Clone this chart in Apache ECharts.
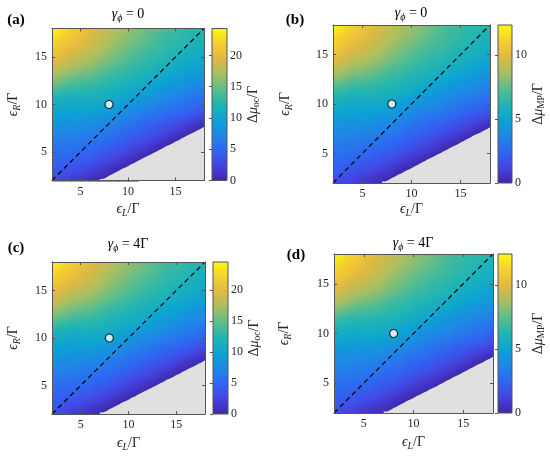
<!DOCTYPE html>
<html lang="en">
<head>
<meta charset="UTF-8">
<title>Delta mu maps</title>
<script src="https://cdn.jsdelivr.net/npm/echarts@6/dist/echarts.min.js"></script>
<style>
  html, body { margin: 0; padding: 0; background: #fff; }
  #main { width: 550px; height: 460px; }
</style>
</head>
<body>
<div id="main"></div>
<script>
// grid of level energies (eps_L columns, eps_R rows), in units of Gamma
var epsVals = [2, 3, 4, 5, 6, 7, 8, 9, 10, 11, 12, 13, 14, 15, 16, 17, 18];
var tickVals = [5, 10, 15];
var diagLine = [2, 18];
var markerPoint = [8, 10];
var cbTicksOc = [0, 5, 10, 15, 20];
var cbTicksMp = [0, 5, 10];

// edge of the grey (no solution) region, read off the staircase
var grayL = [7.0, 7.33, 7.67, 8.0, 8.33, 8.67, 9.0, 9.33, 9.67, 10.0, 10.33, 10.67, 11.0, 11.33, 11.67, 12.0, 12.33,
  12.67, 13.0, 13.33, 13.67, 14.0, 14.33, 14.67, 15.0, 15.33, 15.67, 16.0, 16.33, 16.67, 17.0, 17.33, 17.67, 18.0];
var grayTop = [2.15, 2.3, 2.5, 2.65, 2.85, 3.0, 3.2, 3.35, 3.5, 3.7, 3.85, 4.05, 4.2, 4.4, 4.55, 4.7, 4.9,
  5.05, 5.25, 5.4, 5.6, 5.75, 5.9, 6.1, 6.25, 6.45, 6.6, 6.8, 6.95, 7.1, 7.3, 7.45, 7.65, 7.65];

var _ = null;
// rows: eps_R = 2..18, columns: eps_L = 2..18
var dmuOcG0 = [
  [3.2, 2.5, 1.8, 1.3, 0.7, 0.2, 0, _, _, _, _, _, _, _, _, _, _],
  [4.1, 3.6, 3.1, 2.6, 2.1, 1.4, 0.7, 0, 0, _, _, _, _, _, _, _, _],
  [4.9, 4.6, 4.3, 4.0, 3.6, 2.9, 2.2, 1.4, 0.7, 0, 0, _, _, _, _, _, _],
  [5.6, 5.4, 5.2, 5.0, 4.7, 4.2, 3.7, 3.0, 2.2, 1.5, 0.7, 0, 0, _, _, _, _],
  [6.4, 6.3, 6.1, 5.9, 5.6, 5.2, 4.8, 4.3, 3.7, 3.0, 2.3, 1.5, 0.6, 0, 0, _, _],
  [7.4, 7.3, 7.1, 6.9, 6.7, 6.3, 5.8, 5.3, 4.8, 4.3, 3.7, 3.0, 2.3, 1.5, 0.6, 0, 0],
  [8.4, 8.3, 8.1, 8.0, 7.8, 7.4, 7.0, 6.4, 5.8, 5.3, 4.8, 4.3, 3.7, 3.1, 2.4, 1.5, 0.6],
  [9.6, 9.5, 9.3, 9.2, 9.2, 8.9, 8.6, 7.9, 7.2, 6.7, 6.1, 5.6, 5.1, 4.7, 4.2, 3.6, 2.9],
  [10.9, 10.7, 10.4, 10.5, 10.6, 10.3, 10.0, 9.3, 8.5, 8.0, 7.5, 7.0, 6.4, 5.9, 5.4, 5.0, 4.5],
  [12.4, 12.0, 11.6, 11.7, 11.7, 11.4, 11.1, 10.6, 10.1, 9.5, 8.9, 8.3, 7.7, 7.2, 6.6, 6.2, 5.7],
  [14.8, 14.1, 13.4, 13.1, 12.9, 12.5, 12.1, 11.7, 11.3, 10.8, 10.2, 9.6, 8.9, 8.4, 7.9, 7.4, 6.9],
  [17.0, 16.2, 15.4, 14.9, 14.5, 13.8, 13.1, 12.7, 12.2, 11.7, 11.2, 10.7, 10.1, 9.6, 9.1, 8.6, 8.1],
  [18.8, 18.0, 17.1, 16.6, 16.1, 15.4, 14.6, 13.9, 13.2, 12.7, 12.2, 11.7, 11.2, 10.7, 10.2, 9.8, 9.3],
  [20.3, 19.4, 18.5, 18.0, 17.4, 16.6, 15.7, 15.0, 14.2, 13.6, 13.0, 12.5, 12.0, 11.6, 11.1, 10.7, 10.3],
  [21.6, 20.7, 19.8, 19.1, 18.4, 17.6, 16.7, 15.9, 15.1, 14.5, 13.8, 13.3, 12.7, 12.3, 11.8, 11.4, 10.9],
  [22.8, 21.8, 20.8, 20.0, 19.1, 18.3, 17.4, 16.7, 16.0, 15.3, 14.5, 13.8, 13.1, 12.8, 12.4, 12.0, 11.5],
  [24.2, 23.0, 21.7, 20.8, 19.8, 18.9, 18.0, 17.3, 16.5, 15.8, 15.0, 14.3, 13.6, 13.2, 12.7, 12.4, 12.0]
];
var dmuMpG0 = [
  [1.6, 1.3, 0.9, 0.7, 0.4, 0.1, 0, _, _, _, _, _, _, _, _, _, _],
  [2.1, 1.8, 1.6, 1.3, 1.1, 0.7, 0.4, 0, 0, _, _, _, _, _, _, _, _],
  [2.5, 2.3, 2.2, 2.0, 1.8, 1.5, 1.1, 0.7, 0.4, 0, 0, _, _, _, _, _, _],
  [2.9, 2.8, 2.7, 2.6, 2.4, 2.1, 1.9, 1.5, 1.1, 0.8, 0.4, 0, 0, _, _, _, _],
  [3.3, 3.2, 3.1, 3.0, 2.9, 2.7, 2.4, 2.2, 1.9, 1.5, 1.2, 0.8, 0.3, 0, 0, _, _],
  [3.8, 3.7, 3.6, 3.5, 3.4, 3.2, 3.0, 2.7, 2.4, 2.2, 1.9, 1.5, 1.2, 0.8, 0.3, 0, 0],
  [4.3, 4.2, 4.1, 4.1, 4.0, 3.8, 3.6, 3.3, 3.0, 2.7, 2.4, 2.2, 1.9, 1.6, 1.2, 0.8, 0.3],
  [4.9, 4.8, 4.7, 4.7, 4.7, 4.5, 4.4, 4.0, 3.7, 3.4, 3.1, 2.9, 2.6, 2.4, 2.1, 1.8, 1.5],
  [5.6, 5.5, 5.3, 5.4, 5.4, 5.3, 5.1, 4.7, 4.3, 4.1, 3.8, 3.6, 3.3, 3.0, 2.8, 2.6, 2.3],
  [6.3, 6.1, 5.9, 6.0, 6.0, 5.8, 5.7, 5.4, 5.2, 4.8, 4.5, 4.2, 3.9, 3.7, 3.4, 3.2, 2.9],
  [7.5, 7.2, 6.8, 6.7, 6.6, 6.4, 6.2, 6.0, 5.8, 5.5, 5.2, 4.9, 4.5, 4.3, 4.0, 3.8, 3.5],
  [8.7, 8.3, 7.9, 7.6, 7.4, 7.0, 6.7, 6.5, 6.2, 6.0, 5.7, 5.5, 5.2, 4.9, 4.6, 4.4, 4.1],
  [9.6, 9.2, 8.7, 8.5, 8.2, 7.9, 7.4, 7.1, 6.7, 6.5, 6.2, 6.0, 5.7, 5.5, 5.2, 5.0, 4.7],
  [10.4, 9.9, 9.4, 9.2, 8.9, 8.5, 8.0, 7.7, 7.2, 6.9, 6.6, 6.4, 6.1, 5.9, 5.7, 5.5, 5.3],
  [11.0, 10.6, 10.1, 9.7, 9.4, 9.0, 8.5, 8.1, 7.7, 7.4, 7.0, 6.8, 6.5, 6.3, 6.0, 5.8, 5.6],
  [11.6, 11.1, 10.6, 10.2, 9.7, 9.3, 8.9, 8.5, 8.2, 7.8, 7.4, 7.0, 6.7, 6.5, 6.3, 6.1, 5.9],
  [12.3, 11.7, 11.1, 10.6, 10.1, 9.6, 9.2, 8.8, 8.4, 8.1, 7.7, 7.3, 6.9, 6.7, 6.5, 6.3, 6.1]
];
var dmuOcG4 = [
  [3.2, 2.5, 1.8, 1.3, 0.7, 0.2, 0, _, _, _, _, _, _, _, _, _, _],
  [4.1, 3.6, 3.1, 2.6, 2.1, 1.4, 0.7, 0, 0, _, _, _, _, _, _, _, _],
  [4.9, 4.6, 4.3, 4.0, 3.6, 2.9, 2.2, 1.4, 0.7, 0, 0, _, _, _, _, _, _],
  [5.6, 5.4, 5.2, 5.0, 4.7, 4.2, 3.7, 3.0, 2.2, 1.5, 0.7, 0, 0, _, _, _, _],
  [6.4, 6.3, 6.1, 5.9, 5.6, 5.2, 4.8, 4.3, 3.7, 3.0, 2.3, 1.5, 0.6, 0, 0, _, _],
  [7.4, 7.3, 7.1, 6.9, 6.7, 6.3, 5.8, 5.3, 4.8, 4.3, 3.7, 3.0, 2.3, 1.5, 0.6, 0, 0],
  [8.4, 8.3, 8.1, 8.0, 7.8, 7.4, 7.0, 6.4, 5.8, 5.3, 4.8, 4.3, 3.7, 3.1, 2.4, 1.5, 0.6],
  [9.6, 9.5, 9.3, 9.2, 9.2, 8.9, 8.6, 7.9, 7.2, 6.7, 6.1, 5.6, 5.1, 4.7, 4.2, 3.6, 2.9],
  [10.9, 10.7, 10.4, 10.5, 10.6, 10.3, 10.0, 9.3, 8.5, 8.0, 7.5, 7.0, 6.4, 5.9, 5.4, 5.0, 4.5],
  [12.4, 12.0, 11.6, 11.7, 11.7, 11.4, 11.1, 10.6, 10.1, 9.5, 8.9, 8.3, 7.7, 7.2, 6.6, 6.2, 5.7],
  [14.8, 14.1, 13.4, 13.1, 12.9, 12.5, 12.1, 11.7, 11.3, 10.8, 10.2, 9.6, 8.9, 8.4, 7.9, 7.4, 6.9],
  [17.0, 16.2, 15.4, 14.9, 14.5, 13.8, 13.1, 12.7, 12.2, 11.7, 11.2, 10.7, 10.1, 9.6, 9.1, 8.6, 8.1],
  [18.8, 18.0, 17.1, 16.6, 16.1, 15.4, 14.6, 13.9, 13.2, 12.7, 12.2, 11.7, 11.2, 10.7, 10.2, 9.8, 9.3],
  [20.3, 19.4, 18.5, 18.0, 17.4, 16.6, 15.7, 15.0, 14.2, 13.6, 13.0, 12.5, 12.0, 11.6, 11.1, 10.7, 10.3],
  [21.6, 20.7, 19.8, 19.1, 18.4, 17.6, 16.7, 15.9, 15.1, 14.5, 13.8, 13.3, 12.7, 12.3, 11.8, 11.4, 10.9],
  [22.8, 21.8, 20.8, 20.0, 19.1, 18.3, 17.4, 16.7, 16.0, 15.3, 14.5, 13.8, 13.1, 12.8, 12.4, 12.0, 11.5],
  [24.3, 23.1, 21.8, 20.8, 19.8, 18.9, 18.0, 17.3, 16.5, 15.8, 15.0, 14.3, 13.6, 13.2, 12.7, 12.4, 12.0]
];
var dmuMpG4 = [
  [1.6, 1.3, 0.9, 0.7, 0.4, 0.1, 0, _, _, _, _, _, _, _, _, _, _],
  [2.1, 1.8, 1.6, 1.3, 1.1, 0.7, 0.4, 0, 0, _, _, _, _, _, _, _, _],
  [2.5, 2.3, 2.2, 2.0, 1.8, 1.5, 1.1, 0.7, 0.4, 0, 0, _, _, _, _, _, _],
  [2.9, 2.8, 2.7, 2.6, 2.4, 2.1, 1.9, 1.5, 1.1, 0.8, 0.4, 0, 0, _, _, _, _],
  [3.3, 3.2, 3.1, 3.0, 2.9, 2.7, 2.4, 2.2, 1.9, 1.5, 1.2, 0.8, 0.3, 0, 0, _, _],
  [3.8, 3.7, 3.6, 3.5, 3.4, 3.2, 3.0, 2.7, 2.4, 2.2, 1.9, 1.5, 1.2, 0.8, 0.3, 0, 0],
  [4.3, 4.2, 4.1, 4.1, 4.0, 3.8, 3.6, 3.3, 3.0, 2.7, 2.4, 2.2, 1.9, 1.6, 1.2, 0.8, 0.3],
  [4.9, 4.8, 4.7, 4.7, 4.7, 4.5, 4.4, 4.0, 3.7, 3.4, 3.1, 2.9, 2.6, 2.4, 2.1, 1.8, 1.5],
  [5.6, 5.5, 5.3, 5.4, 5.4, 5.3, 5.1, 4.7, 4.3, 4.1, 3.8, 3.6, 3.3, 3.0, 2.8, 2.6, 2.3],
  [6.3, 6.1, 5.9, 6.0, 6.0, 5.8, 5.7, 5.4, 5.2, 4.8, 4.5, 4.2, 3.9, 3.7, 3.4, 3.2, 2.9],
  [7.5, 7.2, 6.8, 6.7, 6.6, 6.4, 6.2, 6.0, 5.8, 5.5, 5.2, 4.9, 4.5, 4.3, 4.0, 3.8, 3.5],
  [8.7, 8.3, 7.9, 7.6, 7.4, 7.0, 6.7, 6.5, 6.2, 6.0, 5.7, 5.5, 5.2, 4.9, 4.6, 4.4, 4.1],
  [9.6, 9.2, 8.7, 8.5, 8.2, 7.9, 7.4, 7.1, 6.7, 6.5, 6.2, 6.0, 5.7, 5.5, 5.2, 5.0, 4.7],
  [10.4, 9.9, 9.4, 9.2, 8.9, 8.5, 8.0, 7.7, 7.2, 6.9, 6.6, 6.4, 6.1, 5.9, 5.7, 5.5, 5.3],
  [11.0, 10.6, 10.1, 9.7, 9.4, 9.0, 8.5, 8.1, 7.7, 7.4, 7.0, 6.8, 6.5, 6.3, 6.0, 5.8, 5.6],
  [11.6, 11.1, 10.6, 10.2, 9.7, 9.3, 8.9, 8.5, 8.2, 7.8, 7.4, 7.0, 6.7, 6.5, 6.3, 6.1, 5.9],
  [12.4, 11.7, 11.1, 10.6, 10.1, 9.6, 9.2, 8.8, 8.4, 8.1, 7.7, 7.3, 6.9, 6.7, 6.5, 6.3, 6.1]
];

// parula-like colour map
var cmapPos = [0, 0.1, 0.2, 0.3, 0.4, 0.5, 0.6, 0.7, 0.8, 0.9, 1];
var cmapHex = ['#3e26a8', '#4543e0', '#2f66f2', '#1e88e6', '#0ca3d2', '#21b5b2', '#5cbd8c', '#a6bf62', '#e0b942', '#f6cf30', '#f9fb0e'];
var SERIF = '"Liberation Serif", "DejaVu Serif", serif';
var TXT = '#262626';
var FRAME = '#555555';

var cmapRgb = cmapHex.map(function (h) {
  return [parseInt(h.substr(1, 2), 16), parseInt(h.substr(3, 2), 16), parseInt(h.substr(5, 2), 16)];
});
function colorAt(f) {
  f = Math.max(0, Math.min(1, f));
  var i = 0;
  while (i < cmapPos.length - 2 && f > cmapPos[i + 1]) i++;
  var u = (f - cmapPos[i]) / (cmapPos[i + 1] - cmapPos[i]);
  var a = cmapRgb[i], b = cmapRgb[i + 1];
  return 'rgb(' + Math.round(a[0] + (b[0] - a[0]) * u) + ',' + Math.round(a[1] + (b[1] - a[1]) * u) + ',' +
    Math.round(a[2] + (b[2] - a[2]) * u) + ')';
}

var richAxis = {
  e: { fontFamily: SERIF, fontStyle: 'italic', fontSize: 14, color: TXT, lineHeight: 18 },
  n: { fontFamily: SERIF, fontSize: 14, color: TXT, lineHeight: 18 },
  s: { fontFamily: SERIF, fontStyle: 'italic', fontSize: 10, color: TXT, lineHeight: 8, verticalAlign: 'bottom' },
  r: { fontFamily: SERIF, fontSize: 9.5, color: TXT, lineHeight: 8, verticalAlign: 'bottom' }
};
var richTitle = {
  g: { fontFamily: SERIF, fontStyle: 'italic', fontSize: 14, fill: '#000', color: '#000', lineHeight: 18 },
  n: { fontFamily: SERIF, fontSize: 14, fill: '#000', color: '#000', lineHeight: 18 },
  s: { fontFamily: SERIF, fontStyle: 'italic', fontSize: 10, fill: '#000', color: '#000', lineHeight: 8, verticalAlign: 'bottom' }
};

var panels = [
  { values: dmuOcG0, cbMax: 24.3, cbTicks: cbTicksOc, tag: '(a)', title: '{g|γ}{s|ϕ}{n| = 0}',
    cbName: '{n|Δ}{e|μ}{r|oc}{n|/Γ}', box: { left: 52, top: 28.5, width: 152, height: 152 },
    bar: { left: 212, width: 15 }, xGap: 20, yGap: 30, cbGap: 13, titleAt: [128, 14], tagAt: [16, 20] },
  { values: dmuMpG0, cbMax: 12.35, cbTicks: cbTicksMp, tag: '(b)', title: '{g|γ}{s|ϕ}{n| = 0}',
    cbName: '{n|Δ}{e|μ}{r|MP}{n|/Γ}', box: { left: 333, top: 25, width: 157, height: 158 },
    bar: { left: 498, width: 14 }, xGap: 17, yGap: 39, cbGap: 12, titleAt: [411, 13], tagAt: [295, 20] },
  { values: dmuOcG4, cbMax: 24.5, cbTicks: cbTicksOc, tag: '(c)', title: '{g|γ}{s|ϕ}{n| = 4Γ}',
    cbName: '{n|Δ}{e|μ}{r|oc}{n|/Γ}', box: { left: 52, top: 262, width: 153, height: 152 },
    bar: { left: 213, width: 15 }, xGap: 20, yGap: 30, cbGap: 15, titleAt: [128, 244], tagAt: [16, 248] },
  { values: dmuMpG4, cbMax: 12.4, cbTicks: cbTicksMp, tag: '(d)', title: '{g|γ}{s|ϕ}{n| = 4Γ}',
    cbName: '{n|Δ}{e|μ}{r|MP}{n|/Γ}', box: { left: 334, top: 254, width: 159, height: 159 },
    bar: { left: 498, width: 14 }, xGap: 20, yGap: 41, cbGap: 12, titleAt: [413, 243], tagAt: [296, 255] }
];

// one patch between four neighbouring grid nodes, shaded along its local gradient
function cellRenderer(vmax) {
  return function (params, api) {
    var L = api.value(0), R = api.value(1);
    var v00 = api.value(2), v10 = api.value(3), v01 = api.value(4), v11 = api.value(5);
    var p0 = api.coord([L, R + 1]);
    var p1 = api.coord([L + 1, R]);
    var gx = ((v10 - v00) + (v11 - v01)) / 2;
    var gy = ((v01 - v00) + (v11 - v10)) / 2;
    var vc = (v00 + v10 + v01 + v11) / 4;
    var half = (Math.abs(gx) + Math.abs(gy)) / 2;
    var fill;
    if (half < 1e-6) {
      fill = colorAt(vc / vmax);
    } else {
      var s = half / (gx * gx + gy * gy);
      var lo = vc - half, hi = vc + half;
      var stops = [0, 0.25, 0.5, 0.75, 1].map(function (o) {
        return { offset: o, color: colorAt((lo + (hi - lo) * o) / vmax) };
      });
      fill = new echarts.graphic.LinearGradient(0.5 - s * gx, 0.5 + s * gy, 0.5 + s * gx, 0.5 - s * gy, stops);
    }
    return {
      type: 'rect',
      shape: { x: p0[0], y: p0[1], width: p1[0] - p0[0] + 1, height: p1[1] - p0[1] + 1 },
      style: { fill: fill }
    };
  };
}

function renderBar(params, api) {
  var cs = params.coordSys;
  var stops = cmapHex.map(function (c, i) { return { offset: cmapPos[i], color: c }; });
  return {
    type: 'rect',
    shape: { x: cs.x, y: cs.y, width: cs.width, height: cs.height },
    style: { fill: new echarts.graphic.LinearGradient(0, 1, 0, 0, stops), stroke: FRAME, lineWidth: 1 }
  };
}

function frameAxis(g, pos, withLabels, name, gap) {
  var a = {
    type: 'value', gridIndex: g, position: pos, min: 2, max: 18, z: 10,
    axisLine: { show: true, onZero: false, lineStyle: { color: FRAME, width: 1 } },
    axisTick: { show: true, inside: true, length: 3, customValues: tickVals, lineStyle: { color: FRAME, width: 1 } },
    axisLabel: { show: withLabels, customValues: tickVals, fontFamily: SERIF, fontSize: 12, color: TXT, margin: 5 },
    splitLine: { show: false }
  };
  if (name) {
    a.name = name;
    a.nameLocation = 'middle';
    a.nameGap = gap;
    a.nameTextStyle = { rich: richAxis };
    if (pos === 'left') a.nameRotate = 90;
  }
  return a;
}

var option = { animation: false, backgroundColor: '#fff', grid: [], xAxis: [], yAxis: [], series: [], graphic: [] };

panels.forEach(function (pn) {
  var g = option.grid.length;
  option.grid.push({ left: pn.box.left, top: pn.box.top, width: pn.box.width, height: pn.box.height });
  var xi = option.xAxis.length, yi = option.yAxis.length;
  option.xAxis.push(frameAxis(g, 'bottom', true, '{e|ϵ}{s|L}{n|/Γ}', pn.xGap));
  option.xAxis.push(frameAxis(g, 'top', false));
  option.yAxis.push(frameAxis(g, 'left', true, '{e|ϵ}{s|R}{n|/Γ}', pn.yGap));
  option.yAxis.push(frameAxis(g, 'right', false));

  var vals = pn.values, cells = [];
  for (var ri = 0; ri < epsVals.length - 1; ri++) {
    for (var ci = 0; ci < epsVals.length - 1; ci++) {
      var q = [vals[ri][ci], vals[ri][ci + 1], vals[ri + 1][ci], vals[ri + 1][ci + 1]];
      if (q.every(function (v) { return v === null; })) continue;
      cells.push([epsVals[ci], epsVals[ri]].concat(q.map(function (v) { return v === null ? 0 : v; })));
    }
  }
  option.series.push({
    type: 'custom', xAxisIndex: xi, yAxisIndex: yi, data: cells, renderItem: cellRenderer(pn.cbMax),
    encode: { x: 0, y: 1 }, silent: true, z: 1
  });

  option.series.push({
    type: 'line', xAxisIndex: xi, yAxisIndex: yi, step: 'end', symbol: 'none', silent: true, z: 3,
    data: grayL.map(function (l, i) { return [l, grayTop[i]]; }),
    lineStyle: { width: 0 }, areaStyle: { color: '#e0e0e0', opacity: 1, origin: 'start' }
  });
  option.series.push({
    type: 'line', xAxisIndex: xi, yAxisIndex: yi, symbol: 'none', silent: true, z: 4,
    data: [[diagLine[0], diagLine[0]], [diagLine[1], diagLine[1]]],
    lineStyle: { color: '#000', width: 1.2, type: [5, 3.5] }
  });
  option.series.push({
    type: 'scatter', xAxisIndex: xi, yAxisIndex: yi, silent: true, z: 5,
    data: [markerPoint], symbolSize: 8,
    itemStyle: { color: '#fff', borderColor: '#000', borderWidth: 1.2 }
  });

  // colour bar
  var cg = option.grid.length;
  option.grid.push({ left: pn.bar.left, top: pn.box.top, width: pn.bar.width, height: pn.box.height });
  var cx = option.xAxis.length, cy = option.yAxis.length;
  option.xAxis.push({ type: 'value', gridIndex: cg, min: 0, max: 1, show: false });
  option.yAxis.push({
    type: 'value', gridIndex: cg, position: 'right', min: 0, max: pn.cbMax, z: 10,
    axisLine: { show: false },
    axisTick: { show: true, inside: true, length: 3, customValues: pn.cbTicks, lineStyle: { color: FRAME } },
    axisLabel: { customValues: pn.cbTicks, fontFamily: SERIF, fontSize: 12, color: TXT, margin: 3 },
    splitLine: { show: false },
    name: pn.cbName, nameLocation: 'middle', nameRotate: 90, nameGap: pn.cbGap, nameTextStyle: { rich: richAxis }
  });
  option.series.push({ type: 'custom', xAxisIndex: cx, yAxisIndex: cy, data: [[0.5, 0]], renderItem: renderBar, silent: true, z: 2 });

  option.graphic.push({
    type: 'text', x: pn.tagAt[0], y: pn.tagAt[1],
    style: { text: pn.tag, font: 'bold 15px ' + SERIF, fill: '#000', align: 'center', verticalAlign: 'middle' }
  });
  option.graphic.push({
    type: 'text', x: pn.titleAt[0], y: pn.titleAt[1],
    style: { text: pn.title, rich: richTitle, fill: '#000', align: 'center', verticalAlign: 'middle' }
  });
});

var myChart = echarts.init(document.getElementById('main'));
myChart.setOption(option);
</script>
</body>
</html>
